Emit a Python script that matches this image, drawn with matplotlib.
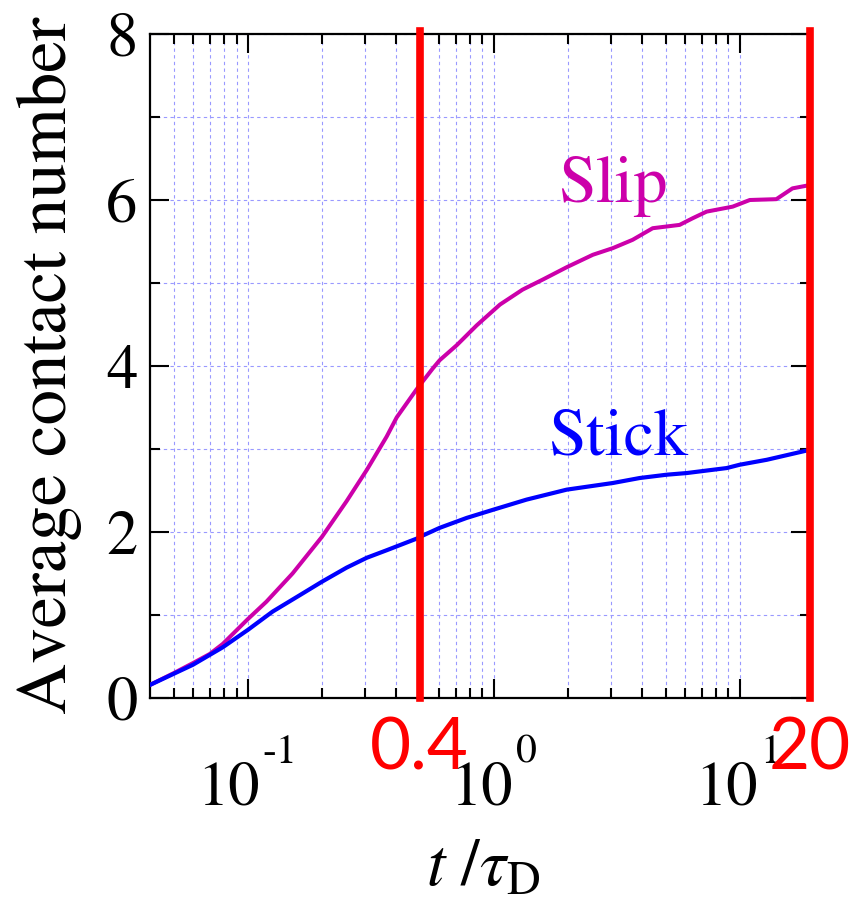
import numpy as np
import matplotlib
matplotlib.use("Agg")
import matplotlib.pyplot as plt
from matplotlib.ticker import FixedLocator, NullFormatter

plt.rcParams["mathtext.fontset"] = "stix"
plt.rcParams["font.family"] = ["STIXGeneral", "Liberation Serif", "DejaVu Serif"]

# t/tau_D and average contact number
slip_t = [0.040, 0.050, 0.0598, 0.070, 0.079, 0.100, 0.119, 0.152, 0.200, 0.252,
          0.305, 0.367, 0.403, 0.486, 0.565, 0.603, 0.707, 0.853, 1.06, 1.31,
          1.58, 1.98, 2.53, 3.05, 3.67, 4.43, 5.70, 6.44, 7.34, 9.37, 11.0,
          14.1, 16.4, 19.3]
slip_n = [0.157, 0.30, 0.42, 0.53, 0.65, 0.95, 1.16, 1.50, 1.94, 2.37,
          2.75, 3.15, 3.38, 3.72, 3.97, 4.07, 4.25, 4.49, 4.74, 4.92,
          5.04, 5.19, 5.34, 5.42, 5.52, 5.66, 5.70, 5.78, 5.86, 5.92, 6.00,
          6.01, 6.14, 6.18]

stick_t = [0.040, 0.0598, 0.079, 0.100, 0.126, 0.163, 0.200, 0.252, 0.305, 0.367,
           0.486, 0.50, 0.603, 0.777, 1.0, 1.36, 1.98, 3.05, 3.92, 5.05,
           6.09, 8.85, 10.0, 12.9, 19.3]
stick_n = [0.157, 0.40, 0.61, 0.82, 1.04, 1.24, 1.40, 1.57, 1.69, 1.78,
           1.92, 1.94, 2.05, 2.17, 2.27, 2.39, 2.51, 2.59, 2.65, 2.69,
           2.71, 2.77, 2.81, 2.87, 2.99]

decades = [0.1, 1, 10]
decade_exp = ["-1", "0", "1"]

marks_t = [0.5, 19.3]
marks_lbl = ["0.4", "20"]

SLIP = "#cc00aa"
STICK = "#0000ff"
RED = "#ff0000"
GRID = "#9999ff"

fig = plt.figure(figsize=(8.57, 9.02), dpi=100)
ax = fig.add_axes([0.175, 0.2262, 0.770, 0.7361])

ax.plot(slip_t, slip_n, color=SLIP, lw=2.9, zorder=3)
ax.plot(stick_t, stick_n, color=STICK, lw=3.0, zorder=3)

ax.set_xscale("log")
ax.set_xlim(0.04, 19.3)
ax.set_ylim(0, 8)

ax.xaxis.set_major_locator(FixedLocator(decades))
minors = [m * 10.0 ** e for e in (-2, -1, 0, 1) for m in range(2, 10)]
ax.xaxis.set_minor_locator(FixedLocator([v for v in minors if 0.04 < v < 19.3]))
ax.xaxis.set_major_formatter(NullFormatter())
ax.xaxis.set_minor_formatter(NullFormatter())
ax.set_yticks([0, 2, 4, 6, 8])
ax.set_yticks([1, 3, 5, 7], minor=True)

ax.grid(which="both", color=GRID, lw=0.8, ls=(0, (3, 3)))
ax.set_axisbelow(True)
for s in ax.spines.values():
    s.set_linewidth(1.6)
ax.tick_params(which="both", direction="in", top=True, right=True, width=1.5)
ax.tick_params(which="major", length=13.5)
ax.tick_params(which="minor", length=7.5)
ax.tick_params(axis="y", which="major", labelsize=45, pad=9)

# decade labels: "10" with a raised exponent, like the original
shift = [12, 19, 18]
for v, e, dx in zip(decades, decade_exp, shift):
    ax.annotate("10", xy=(v, 0), xycoords=("data", "axes fraction"),
                xytext=(dx, -107), textcoords="offset pixels",
                fontsize=45, ha="right", va="baseline", annotation_clip=False)
    ax.annotate(e, xy=(v, 0), xycoords=("data", "axes fraction"),
                xytext=(dx + 3, -65), textcoords="offset pixels",
                fontsize=30, ha="left", va="baseline", annotation_clip=False)

for t in marks_t:
    ax.axvline(t, ymin=0, ymax=1.005, color=RED, lw=5.5, clip_on=False, zorder=4)
for t, s in zip(marks_t, marks_lbl):
    ax.text(t, -0.86, s, color=RED, fontsize=51, family=["Lato", "DejaVu Sans"],
            ha="center", va="baseline", clip_on=False, zorder=5)

ax.text(1.82, 5.98, "Slip", color=SLIP, fontsize=49, va="baseline")
ax.text(1.66, 2.93, "Stick", color=STICK, fontsize=49, va="baseline")

fig.text(49 / 857, 0.595, "Average contact number", rotation=90,
         fontsize=51, ha="center", va="center")
fig.text(483 / 857, 1 - 885 / 902, r"$t\ /\tau_{\rm D}$", fontsize=48,
         ha="center", va="baseline")

fig.savefig("out.png", dpi=100, facecolor="white")
